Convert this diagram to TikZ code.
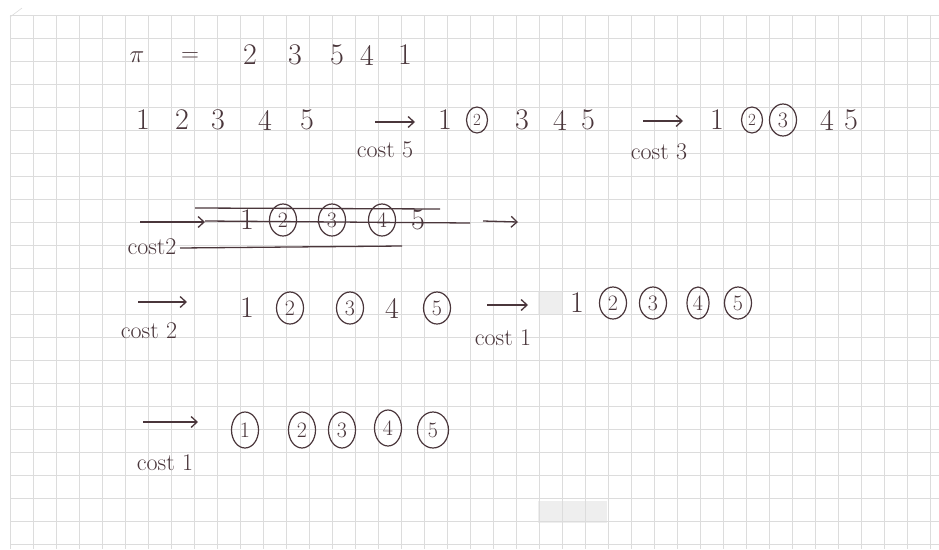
\documentclass[tikz,border=0pt]{standalone}
\usepackage{tikz}
\usetikzlibrary{arrows.meta, shapes.geometric}
\definecolor{inkcolor}{HTML}{4A363B}
\definecolor{gridcolor}{HTML}{DCDCDC}
\definecolor{scancolor}{HTML}{EEEEEE}

\begin{document}
\begin{tikzpicture}[
    x=1pt, y=-1pt,
    >={Straight Barb[length=6pt, width=11pt]},
    line width=1.2pt,
    digit/.style={inkcolor, inner sep=0pt, font=\fontsize{30}{34}\selectfont},
    ring/.style={draw=inkcolor, ellipse, inner sep=0pt, minimum width=27pt, minimum height=32pt, line width=1.2pt, text=inkcolor, font=\fontsize{22}{25}\selectfont},
    smallring/.style={ring, minimum width=21pt, minimum height=26pt, font=\fontsize{17}{20}\selectfont},
    costlabel/.style={inkcolor, inner sep=0pt, font=\fontsize{24}{28}\selectfont},
    move/.style={->, inkcolor, line width=1.3pt},
    strike/.style={inkcolor, line width=1.3pt}
]

    % Paper and grid
    \useasboundingbox (0,0) rectangle (939,549);
    \fill[white] (0,0) rectangle (939,549);
    \fill[scancolor] (538,292) rectangle (562,315);
    \fill[scancolor] (538,501) rectangle (607,523);
    \foreach \x in {10,33,...,939} {
        \draw[gridcolor, line width=0.6pt] (\x,15) -- (\x,549);
    }
    \foreach \y in {15,38,...,549} {
        \draw[gridcolor, line width=0.6pt] (10,\y) -- (939,\y);
    }
    \draw[gridcolor, line width=0.6pt] (10,17) -- (22,8);

    % 1. The permutation
    \node[digit] (pi) at (137,57) {$\pi$};
    \node[digit] (eq) at (190,57) {$=$};
    \node[digit] (pa) at (250,55) {2};
    \node[digit] (pb) at (295,55) {3};
    \node[digit] (pc) at (337,55) {5};
    \node[digit] (pd) at (367,55) {4};
    \node[digit] (pe) at (405,55) {1};

    % 2. First line: cost 5, then cost 3
    \node[digit] (a1) at (143,120) {1};
    \node[digit] (a2) at (182,120) {2};
    \node[digit] (a3) at (218,120) {3};
    \node[digit] (a4) at (265,120) {4};
    \node[digit] (a5) at (307,120) {5};

    \coordinate (m1s) at (375,122);
    \coordinate (m1e) at (415,122);
    \draw[move] (m1s) -- (m1e);
    \node[costlabel] (c1) at (385,150) {cost 5};

    \node[digit] (b1) at (445,120) {1};
    \node[smallring] (b2) at (477,120) {2};
    \node[digit] (b3) at (522,120) {3};
    \node[digit] (b4) at (560,120) {4};
    \node[digit] (b5) at (588,120) {5};

    \coordinate (m2s) at (643,121);
    \coordinate (m2e) at (683,121);
    \draw[move] (m2s) -- (m2e);
    \node[costlabel] (c2) at (659,152) {cost 3};

    \node[digit] (d1) at (717,120) {1};
    \node[smallring] (d2) at (752,120) {2};
    \node[ring] (d3) at (783,120) {3};
    \node[digit] (d4) at (827,120) {4};
    \node[digit] (d5) at (851,120) {5};

    % 3. Crossed out attempt
    \coordinate (m3s) at (140,222);
    \coordinate (m3e) at (205,222);
    \draw[move] (m3s) -- (m3e);
    \node[costlabel] (c3) at (152,247) {cost2};

    \node[digit] (e1) at (247,220) {1};
    \node[ring] (e2) at (283,220) {2};
    \node[ring] (e3) at (332,220) {3};
    \node[ring] (e4) at (382,220) {4};
    \node[digit] (e5) at (418,220) {5};

    \coordinate (s1s) at (195,208);
    \coordinate (s1e) at (440,209);
    \coordinate (s2s) at (205,221);
    \coordinate (s2e) at (470,223);
    \coordinate (s3s) at (483,221);
    \coordinate (s3e) at (518,222);
    \coordinate (s4s) at (180,248);
    \coordinate (s4e) at (402,246);
    \draw[strike] (s1s) -- (s1e);
    \draw[strike] (s2s) -- (s2e);
    \draw[move] (s3s) -- (s3e);
    \draw[strike] (s4s) -- (s4e);

    % 4. Second line: cost 2, then cost 1
    \coordinate (m4s) at (138,302);
    \coordinate (m4e) at (187,302);
    \draw[move] (m4s) -- (m4e);
    \node[costlabel] (c4) at (149,331) {cost 2};

    \node[digit] (f1) at (247,308) {1};
    \node[ring] (f2) at (290,308) {2};
    \node[ring] (f3) at (350,308) {3};
    \node[digit] (f4) at (392,308) {4};
    \node[ring] (f5) at (437,308) {5};

    \coordinate (m5s) at (487,305);
    \coordinate (m5e) at (528,305);
    \draw[move] (m5s) -- (m5e);
    \node[costlabel] (c5) at (503,338) {cost 1};

    \node[digit] (g1) at (577,303) {1};
    \node[ring] (g2) at (613,303) {2};
    \node[ring] (g3) at (653,303) {3};
    \node[ring, minimum width=22pt] (g4) at (698,303) {4};
    \node[ring] (g5) at (738,303) {5};

    % 5. Last step: cost 1
    \coordinate (m6s) at (143,422);
    \coordinate (m6e) at (198,422);
    \draw[move] (m6s) -- (m6e);
    \node[costlabel] (c6) at (165,463) {cost 1};

    \node[ring, minimum height=36pt] (h1) at (245,430) {1};
    \node[ring, minimum height=36pt] (h2) at (302,430) {2};
    \node[ring, minimum height=36pt] (h3) at (342,430) {3};
    \node[ring, minimum height=36pt] (h4) at (388,428) {4};
    \node[ring, minimum height=36pt, minimum width=31pt] (h5) at (433,430) {5};

\end{tikzpicture}
\end{document}
